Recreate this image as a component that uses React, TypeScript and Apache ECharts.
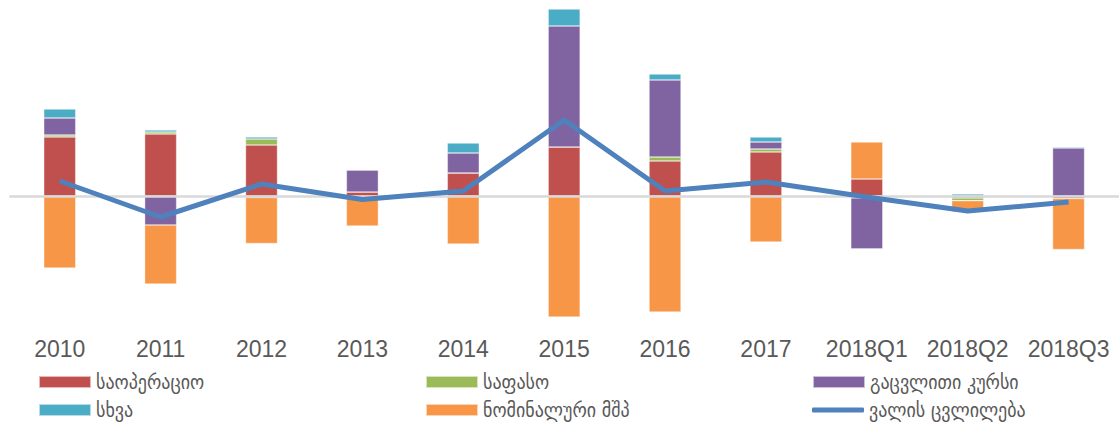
import React, { useEffect, useRef } from "react";
import * as echarts from "echarts";

const categories = ["2010", "2011", "2012", "2013", "2014", "2015", "2016", "2017", "2018Q1", "2018Q2", "2018Q3"];
const operational = [5.9, 6.2, 5.1, 0.4, 2.3, 4.9, 3.5, 4.4, 1.7, -0.2, -0.25];
const price = [0.2, 0.2, 0.6, 0, 0, 0, 0.4, 0.3, -0.2, -0.27, 0];
const exchangeRate = [1.7, -2.9, -0.15, 2.2, 2.0, 12.1, 7.7, 0.7, -5.1, 0, 4.8];
const other = [0.9, 0.2, 0.2, 0, 1.0, 1.7, 0.6, 0.5, 0, 0.2, 0.1];
const nominalGdp = [-7.2, -5.9, -4.6, -3.0, -4.8, -12.1, -11.6, -4.6, 3.7, -1.1, -5.1];
const debtChange = [1.5, -2.1, 1.2, -0.35, 0.5, 7.6, 0.5, 1.4, -0.1, -1.5, -0.6];

const names = ["საოპერაციო", "საფასო", "გაცვლითი კურსი", "სხვა", "ნომინალური მშპ", "ვალის ცვლილება"];
const colors = ["#c0504d", "#9bbb59", "#8064a2", "#4bacc6", "#f79646", "#4f81bd"];

export default function App() {
  const ref = useRef<HTMLDivElement>(null);
  useEffect(() => {
    const chart = echarts.init(ref.current!, undefined, { renderer: "svg" });
    const barData = [operational, price, exchangeRate, other, nominalGdp];
    const legendPos = [
      [38, 372],
      [425, 372],
      [812, 372],
      [38, 400],
      [425, 400],
      [812, 400],
    ];
    const legends = names.map((n, i) => ({
      data: [n],
      left: legendPos[i][0],
      top: legendPos[i][1],
      padding: 0,
      itemWidth: 52,
      itemHeight: i === 5 ? 5 : 12,
      icon: i === 5 ? "roundRect" : "rect",
      textStyle: { fontSize: 20, color: "#595959", fontFamily: "DejaVu Sans Condensed, DejaVu Sans", lineHeight: 20 },
    }));
    const series: any[] = barData.map((d, i) => ({
      name: names[i],
      type: "bar",
      stack: "total",
      data: d,
      barWidth: 32,
      itemStyle: { color: colors[i], borderColor: "rgba(255,255,255,0.6)", borderWidth: 0.6 },
      ...(i === 4
        ? {
            markLine: {
              silent: true,
              symbol: "none",
              label: { show: false },
              lineStyle: { color: "#d9d9d9", width: 2.5, type: "solid" },
              data: [{ yAxis: 0 }],
            },
          }
        : {}),
    }));
    series.push({
      name: names[5],
      type: "line",
      data: debtChange,
      symbol: "none",
      z: 5,
      lineStyle: { color: colors[5], width: 5 },
      itemStyle: { color: colors[5] },
    });
    chart.setOption({
      animation: false,
      grid: { left: 9.3, right: -6.5, top: 6, bottom: 101, containLabel: false },
      legend: legends,
      xAxis: {
        type: "category",
        data: categories,
        axisLine: { show: false, onZero: false },
        axisTick: { show: false },
        axisLabel: { fontSize: 23, color: "#595959", fontFamily: "Liberation Sans, Arial", margin: 11, interval: 0 },
      },
      yAxis: {
        type: "value",
        min: -13,
        max: 19,
        show: false,
        splitLine: { show: false },
      },
      series,
    });
    return () => chart.dispose();
  }, []);
  return <div ref={ref} style={{ position: "fixed", left: 0, top: 0, width: 1119, height: 427, background: "#fff" }} />;
}
